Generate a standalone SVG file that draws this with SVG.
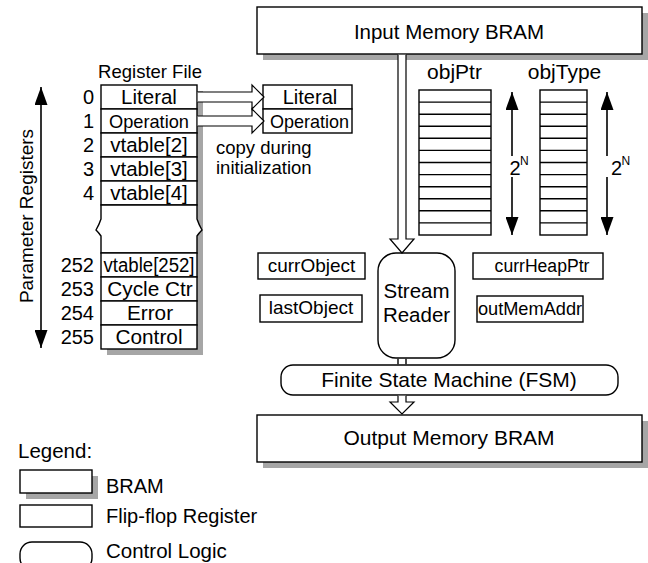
<svg xmlns="http://www.w3.org/2000/svg" width="648" height="563" viewBox="0 0 648 563">
<style>
.t{font-family:"Liberation Sans",Arial,sans-serif;fill:#000}
.m{text-anchor:middle}
.e{text-anchor:end}
.box{fill:#fff;stroke:#000;stroke-width:1.4}
.sh{fill:#a6a6a6;stroke:none}
.ln{fill:none;stroke:#000;stroke-width:1.4}
.ba{fill:#fff;stroke:#000;stroke-width:1.2}
.da{fill:none;stroke:#000;stroke-width:1.6;marker-end:url(#ah)}
</style>
<defs>
<marker id="ah" markerUnits="userSpaceOnUse" viewBox="0 0 18 13" refX="18" refY="6.5" markerWidth="18" markerHeight="13" orient="auto-start-reverse">
<path d="M0,0 L18,6.5 L0,13 z" fill="#000"/>
</marker>
</defs>
<rect width="648" height="563" fill="#fff"/>

<g id="input-memory">
<rect class="sh" x="263" y="13" width="385" height="47"/>
<rect class="box" x="257" y="7" width="385" height="47"/>
<text class="t m" x="449" y="39" font-size="20.5">Input Memory BRAM</text>
</g>

<g id="output-memory">
<rect class="sh" x="263" y="421" width="385" height="47"/>
<rect class="box" x="257" y="415" width="385" height="47"/>
<text class="t m" x="449" y="445" font-size="21">Output Memory BRAM</text>
</g>

<g id="register-file">
<text class="t m" x="150" y="78" font-size="18.5">Register File</text>
<rect class="sh" x="107" y="91" width="96" height="264"/>
<rect class="box" x="101" y="85" width="96" height="24"/>
<rect class="box" x="101" y="109" width="96" height="24"/>
<rect class="box" x="101" y="133" width="96" height="24"/>
<rect class="box" x="101" y="157" width="96" height="24"/>
<rect class="box" x="101" y="181" width="96" height="24"/>
<path class="box" d="M101,205 V219 Q99,225 96,230 Q99,233 101,236 V253 H197 V236 Q199,233 202,230 Q199,225 197,219 V205 Z"/>
<rect class="box" x="101" y="253" width="96" height="24"/>
<rect class="box" x="101" y="277" width="96" height="24"/>
<rect class="box" x="101" y="301" width="96" height="24"/>
<rect class="box" x="101" y="325" width="96" height="24"/>
<text class="t m" x="149" y="104" font-size="20.5">Literal</text>
<text class="t m" x="149" y="128" font-size="19" textLength="80" lengthAdjust="spacingAndGlyphs">Operation</text>
<text class="t m" x="149" y="152" font-size="20.5">vtable[2]</text>
<text class="t m" x="149" y="176" font-size="20.5">vtable[3]</text>
<text class="t m" x="149" y="200" font-size="20.5">vtable[4]</text>
<text class="t m" x="149" y="272" font-size="19.5" textLength="91" lengthAdjust="spacingAndGlyphs">vtable[252]</text>
<text class="t m" x="150" y="296" font-size="20.8">Cycle Ctr</text>
<text class="t m" x="150" y="320" font-size="20.8">Error</text>
<text class="t m" x="149" y="344" font-size="20.8">Control</text>
<text class="t e" x="94" y="104" font-size="20">0</text>
<text class="t e" x="94" y="128" font-size="20">1</text>
<text class="t e" x="94" y="152" font-size="20">2</text>
<text class="t e" x="94" y="176" font-size="20">3</text>
<text class="t e" x="94" y="200" font-size="20">4</text>
<text class="t e" x="94" y="272" font-size="20">252</text>
<text class="t e" x="94" y="296" font-size="20">253</text>
<text class="t e" x="94" y="320" font-size="20">254</text>
<text class="t e" x="94" y="344" font-size="20">255</text>
</g>

<g id="parameter-registers-label">
<text class="t m" transform="translate(33,216) rotate(-90)" font-size="19">Parameter Registers</text>
</g>

<g id="copied-registers">
<rect class="box" x="263" y="85" width="89" height="24"/>
<rect class="box" x="263" y="109" width="89" height="24"/>
<text class="t m" x="310" y="104" font-size="20">Literal</text>
<text class="t m" x="309.5" y="128" font-size="18.5" textLength="79" lengthAdjust="spacingAndGlyphs">Operation</text>
<text class="t" x="216" y="154" font-size="18.5">copy during</text>
<text class="t" x="216" y="174" font-size="18.5">initialization</text>
</g>

<g id="objPtr">
<text class="t m" x="454.5" y="79" font-size="21">objPtr</text>
<rect class="box" x="419" y="90" width="72" height="145"/>
<path class="ln" d="M419,102.1H491M419,114.2H491M419,126.2H491M419,138.3H491M419,150.4H491M419,162.5H491M419,174.6H491M419,186.7H491M419,198.8H491M419,210.8H491M419,222.9H491"/>
</g>

<g id="objType">
<text class="t m" x="564.5" y="79" font-size="21">objType</text>
<rect class="box" x="540" y="90" width="47" height="145"/>
<path class="ln" d="M540,102.1H587M540,114.2H587M540,126.2H587M540,138.3H587M540,150.4H587M540,162.5H587M540,174.6H587M540,186.7H587M540,198.8H587M540,210.8H587M540,222.9H587"/>
</g>

<g id="size-labels">
<text class="t" x="509.5" y="175" font-size="20">2</text>
<text class="t" x="520" y="165" font-size="12">N</text>
<text class="t" x="611" y="175" font-size="20">2</text>
<text class="t" x="621.5" y="165" font-size="12">N</text>
</g>

<g id="currObject">
<rect class="box" x="258" y="253" width="107" height="26"/>
<text class="t m" x="311.5" y="272" font-size="19">currObject</text>
</g>
<g id="lastObject">
<rect class="box" x="260" y="295" width="102" height="27"/>
<text class="t m" x="311" y="314" font-size="19">lastObject</text>
</g>
<g id="currHeapPtr">
<rect class="box" x="473" y="253" width="130" height="26"/>
<text class="t m" x="542" y="272" font-size="17.6">currHeapPtr</text>
</g>
<g id="outMemAddr">
<rect class="box" x="477" y="296" width="106" height="26"/>
<text class="t m" x="530" y="315" font-size="18.2">outMemAddr</text>
</g>

<g id="stream-reader">
<rect class="box" x="378" y="253" width="77" height="105" rx="18" ry="18"/>
<text class="t m" x="416.5" y="298" font-size="20.5">Stream</text>
<text class="t m" x="416.5" y="322" font-size="20.5">Reader</text>
</g>

<g id="fsm">
<rect class="box" x="281" y="365" width="337" height="30" rx="12" ry="12"/>
<text class="t m" x="449" y="387" font-size="21">Finite State Machine (FSM)</text>
</g>

<g id="connectors">
<path class="ba" d="M398,54.7 V239 H390 L402,253 L414,239 H406 V54.7"/>
<path class="ln" d="M398,358.7 V364.3 M406,358.7 V364.3"/>
<path class="ba" d="M398,395.7 V402 H390 L402,414 L414,402 H406 V395.7"/>
<path class="ba" d="M197.7,92 H252 V85 L264,97 L252,109 V102 H197.7"/>
<path class="ba" d="M197.7,116 H252 V109 L264,121 L252,133 V126 H197.7"/>
<line class="da" x1="41" y1="217" x2="41" y2="87"/>
<line class="da" x1="41" y1="217" x2="41" y2="348"/>
<line class="da" x1="512" y1="156" x2="512" y2="92"/>
<line class="da" x1="512" y1="177" x2="512" y2="235"/>
<line class="da" x1="607" y1="156" x2="607" y2="92"/>
<line class="da" x1="607" y1="177" x2="607" y2="235"/>
</g>

<g id="legend">
<text class="t" x="18" y="458" font-size="20.5">Legend:</text>
<rect class="sh" x="26" y="476" width="72" height="23"/>
<rect class="box" x="20" y="470" width="72" height="23"/>
<text class="t" x="106" y="493" font-size="20">BRAM</text>
<rect class="box" x="20" y="505" width="72" height="22"/>
<text class="t" x="106" y="523" font-size="20">Flip-flop Register</text>
<rect class="box" x="20" y="542" width="72" height="28" rx="12" ry="12"/>
<text class="t" x="106" y="558" font-size="20.5">Control Logic</text>
</g>
</svg>
